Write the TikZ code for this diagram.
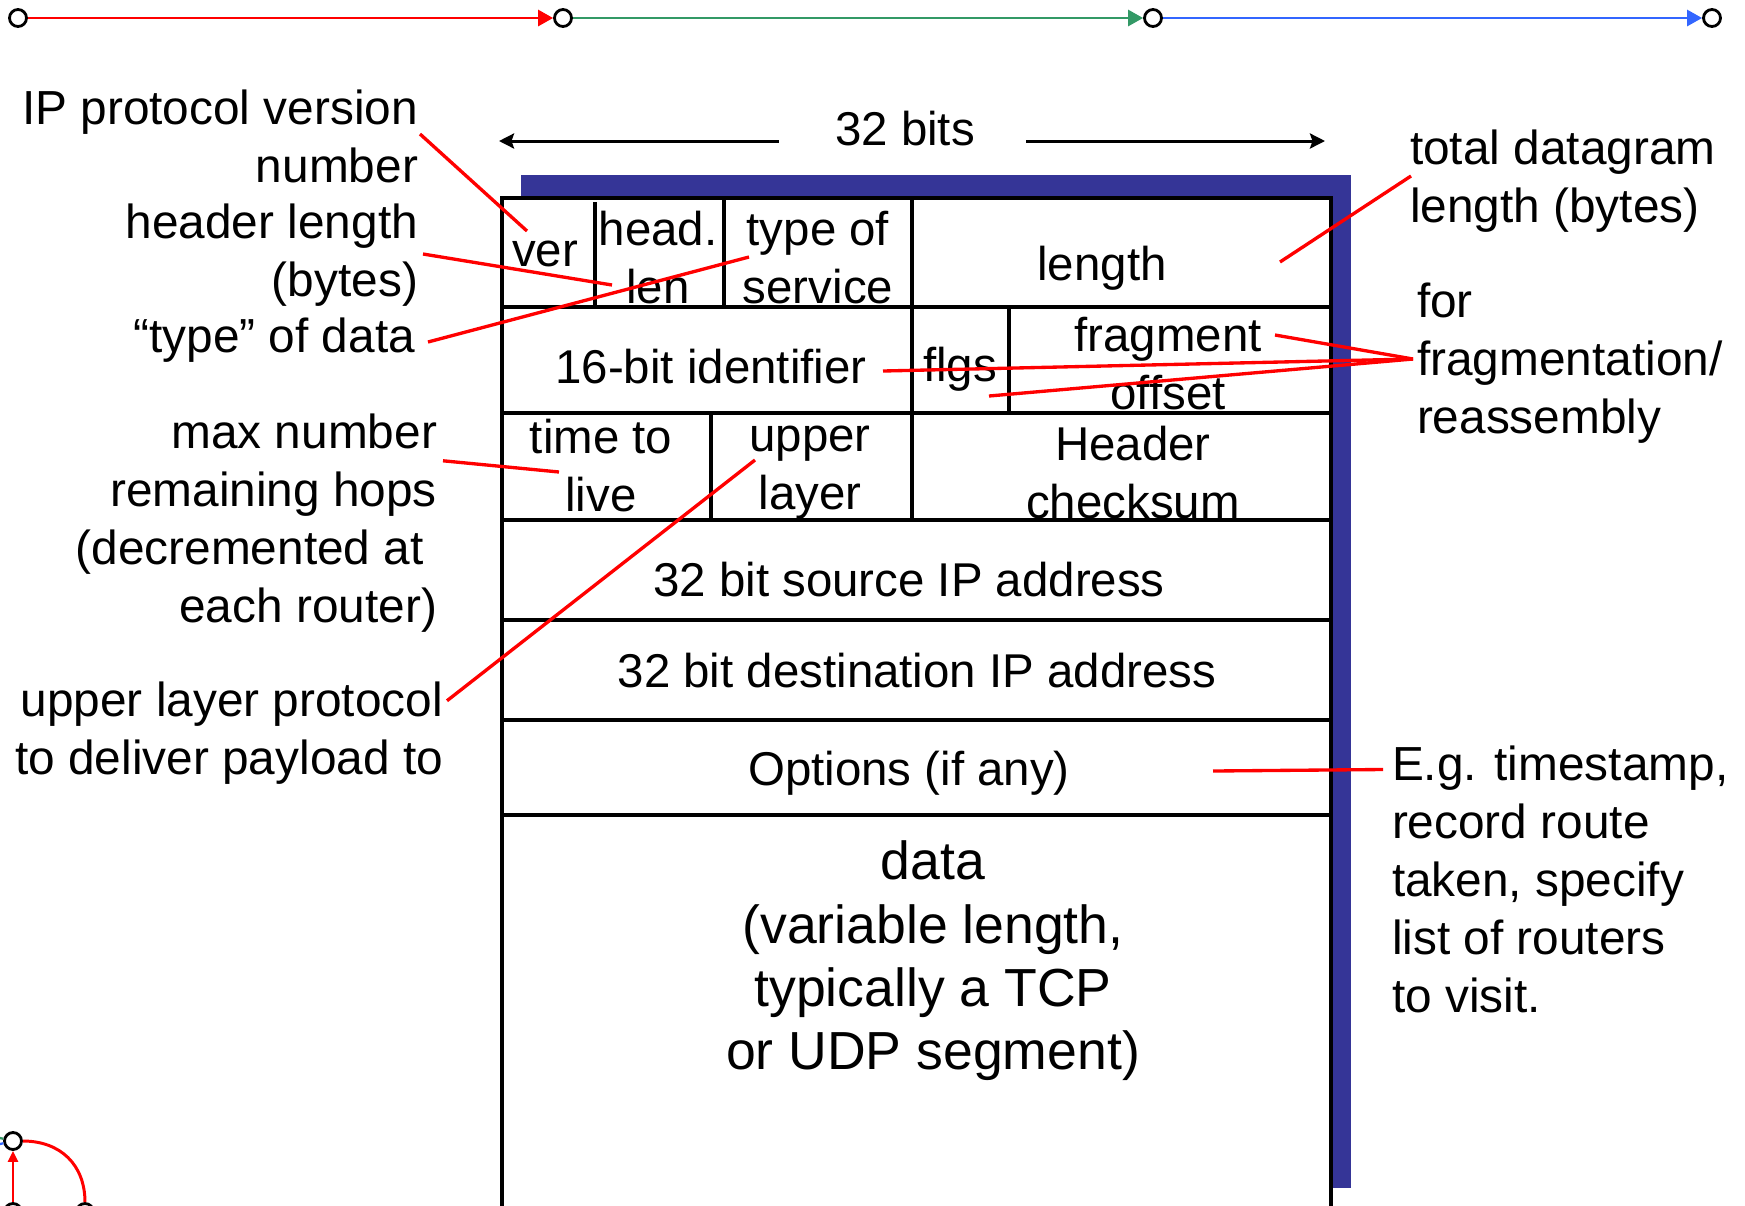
\documentclass[tikz,border=0pt]{standalone}
\usepackage{fontspec}
\setmainfont{Liberation Sans}
\usetikzlibrary{arrows.meta, positioning, calc}
\definecolor{rojo}{HTML}{FF0000}
\definecolor{verde}{HTML}{339966}
\definecolor{azul}{HTML}{3366FF}
\definecolor{sombra}{HTML}{353597}
\tikzset{
  campo/.style={font=\fontsize{27}{33}\selectfont, align=center, inner sep=0pt},
  campodatos/.style={font=\fontsize{30.5}{36}\selectfont, align=center, inner sep=0pt},
  etiq/.style={font=\fontsize{27.2}{33}\selectfont, inner sep=0pt, outer sep=0pt},
  guia/.style={draw=rojo, line width=1.9pt},
  borde/.style={draw=black, line width=2pt},
  hito/.style={circle, draw=black, fill=white, line width=1.6pt, minimum size=0.34cm, inner sep=0pt},
  tramo/.style={line width=1.6pt, -{Triangle[length=0.3cm,width=0.32cm]}},
  medida/.style={line width=1.7pt, -{Stealth[length=0.3cm,width=0.3cm,inset=0.05cm]}}
}
\begin{document}
\begin{tikzpicture}[x=0.02cm, y=-0.02cm]
  \useasboundingbox (0,0) rectangle (1745,1205);
  % barra de avance
  \node (h1) [hito] at (18,18) {};
  \node (h2) [hito] at (563,18) {};
  \node (h3) [hito] at (1153,18) {};
  \node (h4) [hito] at (1712,18) {};
  \draw [tramo, rojo] (h1) -- (h2);
  \draw [tramo, verde] (h2) -- (h3);
  \draw [tramo, azul] (h3) -- (h4);
  % icono de la esquina
  \node (n1) [hito] at (13,1141) {};
  \node (n2) [hito] at (13,1212) {};
  \node (n3) [hito] at (85,1212) {};
  \draw [verde, line width=1.3pt] (0,1138) -- (n1);
  \draw [azul, line width=1.3pt] (0,1144) -- (n1);
  \draw [rojo, line width=1.7pt, -{Triangle[length=0.22cm,width=0.2cm]}] (n2) -- (n1);
  \draw [rojo, line width=1.7pt] (n1) to[out=0, in=90, looseness=1.1] (n3);
  % cabecera
  \fill [sombra] (521,175) rectangle (1351,1188);
  \fill [white] (502,198) rectangle (1331,1220);
  \draw [borde] (502,1220) -- (502,198) -- (1331,198) -- (1331,1220);
  \foreach \y in {307,413,520,620,720,815}
    \draw [borde] (502,\y) -- (1331,\y);
  \draw [borde] (595,202) -- (595,307);
  \draw [borde] (724,198) -- (724,307);
  \draw [borde] (912,198) -- (912,520);
  \draw [borde] (1009,307) -- (1009,413);
  \draw [borde] (711,413) -- (711,520);
  \node (ver) [campo] at (545,254) {ver};
  \node (hlen) [campo] at (658,258) {head.\\len};
  \node (tos) [campo] at (818,258) {type of\\service};
  \node (tlen) [campo] at (1102,268) {length};
  \node (ident) [campo] at (711,367) {16-bit identifier};
  \node (flgs) [campo] at (960,369) {flgs};
  \node (frag) [campo] at (1168,364) {fragment\\offset};
  \node (ttl) [campo] at (601,466) {time to\\live};
  \node (proto) [campo] at (810,473) {upper\\layer};
  \node (csum) [campo] at (1133,473) {Header\\checksum};
  \node (src) [campo] at (909,580) {32 bit source IP address};
  \node (dst) [campo] at (917,671) {32 bit destination IP address};
  \node (opts) [campo] at (909,773) {Options (if any)};
  \node (datos) [campodatos] at (933,961) {data\\(variable length,\\typically a TCP\\or UDP segment)};
  % 32 bits
  \node (bits) [campo] at (905,129) {32 bits};
  \coordinate (bl) at (499,141);
  \coordinate (br) at (1325,141);
  \draw [medida] ($(bits.west)+(-56,12)$) -- (bl);
  \draw [medida] ($(bits.east)+(51,12)$) -- (br);
  % etiquetas
  \node (lver) [etiq, anchor=east, align=right] at (418,136) {IP protocol version\\number};
  \node (lhlen) [etiq, anchor=east, align=right] at (418,255) {header length\\(bytes)};
  \node (ltos) [etiq, anchor=east, align=right] at (415,340) {“type” of data};
  \node (lttl) [etiq, anchor=east, align=right] at (437,523) {max number\\remaining hops\\(decremented at\rule{0.28em}{0pt}\\each router)};
  \node (lproto) [etiq, anchor=east, align=right] at (443,733) {upper layer protocol\\to deliver payload to};
  \node (ltlen) [etiq, anchor=west, align=left] at (1410,181) {total datagram\\length (bytes)};
  \node (lfrag) [etiq, anchor=west, align=left] at (1417,363) {for\\fragmentation/\\reassembly};
  \node (lopts) [etiq, anchor=west, align=left] at (1392,879) {E.g. timestamp,\\record route\\taken, specify\\list of routers\\to visit.};
  % guias
  \coordinate (pver) at (527,231);
  \coordinate (phlen) at (612,285);
  \coordinate (ptos) at (749,257);
  \coordinate (pttl) at (559,472);
  \coordinate (pproto) at (755,460);
  \coordinate (ptlen) at (1280,262);
  \coordinate (pfrag) at (1275,335);
  \coordinate (pident) at (883,371);
  \coordinate (poff) at (989,396);
  \coordinate (popts) at (1213,771);
  \draw [guia] ($(lver.east)+(2,-2)$) -- (pver);
  \draw [guia] ($(lhlen.east)+(5,-1)$) -- (phlen);
  \draw [guia] ($(ltos.east)+(13,2)$) -- (ptos);
  \draw [guia] ($(lttl.north east)+(6,47)$) -- (pttl);
  \draw [guia] ($(lproto.north east)+(4,19)$) -- (pproto);
  \draw [guia] ($(ltlen.west)+(1,-5)$) -- (ptlen);
  \draw [guia] ($(lfrag.west)+(-4,-4)$) -- (pfrag);
  \draw [guia] ($(lfrag.west)+(-4,-4)$) -- (pident);
  \draw [guia] ($(lfrag.west)+(-4,-4)$) -- (poff);
  \draw [guia] ($(lopts.north west)+(-9,24)$) -- (popts);
\end{tikzpicture}
\end{document}
